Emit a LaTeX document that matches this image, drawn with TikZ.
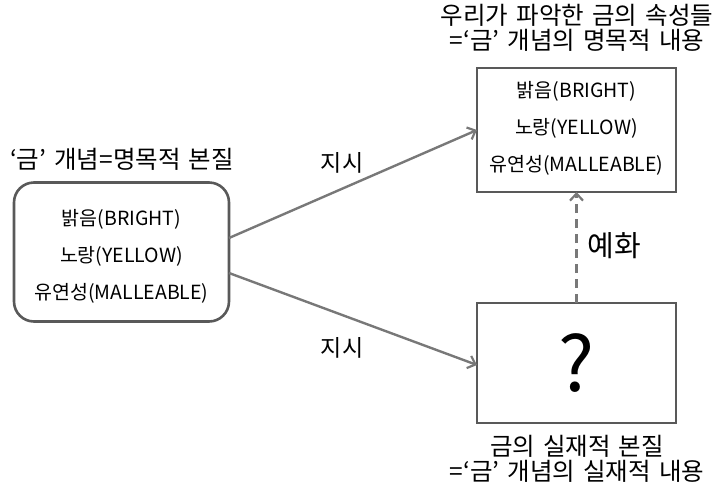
\documentclass[tikz,border=0pt]{standalone}
\usepackage{fontspec}
\setmainfont{Noto Sans CJK KR}
\usetikzlibrary{arrows.meta}
\definecolor{boxcol}{RGB}{89,89,89}
\definecolor{arrcol}{RGB}{120,120,120}
\newcommand\mylblfont{\fontsize{24.5}{25}\selectfont\spaceskip=0.33em\relax}
\begin{document}
\begin{tikzpicture}[x=1pt,y=-1pt,
  boxtext/.style={font=\fontsize{19.5}{37}\selectfont, align=center, inner sep=0pt},
  lbl/.style={font=\mylblfont, align=center, inner sep=0pt},
  rbox/.style={draw=boxcol, line width=2.6pt, rounded corners=20pt, outer sep=0pt},
  sbox/.style={draw=boxcol, line width=2.6pt, outer sep=0pt},
  arr/.style={draw=arrcol, line width=2.4pt, -{Straight Barb[length=7pt,width=13pt,line width=2.2pt]}}
]
\useasboundingbox (0,0) rectangle (717,488);
\node[rbox, minimum width=215pt, minimum height=139pt] (nom) at (121.5,252) {};
\node[boxtext] (nomtxt) at ([yshift=-4pt]nom.center)
  {밝음(BRIGHT)\\노랑(YELLOW)\\유연성(MALLEABLE)};
\node[sbox, minimum width=199pt, minimum height=124pt] (att) at (576.5,130) {};
\node[boxtext] (atttxt) at ([yshift=2pt]att.center)
  {밝음(BRIGHT)\\노랑(YELLOW)\\유연성(MALLEABLE)};
\node[sbox, minimum width=199pt, minimum height=120pt, font=\fontsize{76}{76}\selectfont] (real) at (576.5,363) {?};
\node[lbl] (nomlbl) at (122,159) {‘금’ 개념=명목적 본질};
\node[lbl] (attlbl) at (577,28) {우리가 파악한 금의 속성들\\=‘금’ 개념의 명목적 내용};
\node[lbl] (reallbl) at (577,459) {금의 실재적 본질\\=‘금’ 개념의 실재적 내용};
\draw[arr] ([yshift=14pt]nom.east) -- (att.west);
\draw[arr] ([yshift=-21pt]nom.east) -- ([yshift=-2pt]real.west);
\draw[arr, dash pattern=on 9pt off 6pt] (real.north) -- (att.south);
\node[lbl, font=\fontsize{23}{25}\selectfont] (l1) at (342,163) {지시};
\node[lbl, font=\fontsize{23}{25}\selectfont] (l2) at (342,348) {지시};
\node[lbl, font=\fontsize{29}{30}\selectfont] (l3) at (614,246) {예화};
\end{tikzpicture}
\end{document}
